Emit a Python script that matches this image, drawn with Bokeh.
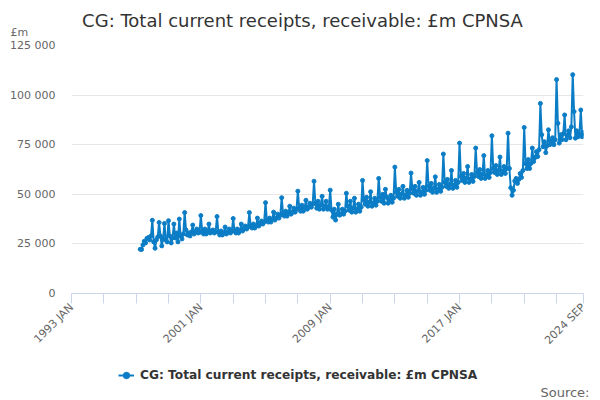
import math
import pandas as pd
from bokeh.plotting import figure
from bokeh.layouts import column
from bokeh.models import Range1d, FixedTicker, Label, Legend, LegendItem, ColumnDataSource
from bokeh.embed import file_html
from bokeh.resources import INLINE

# ---------------- data (values in £m, monthly) ----------------
title_text = "CG: Total current receipts, receivable: £m CPNSA"
series_name = "CG: Total current receipts, receivable: £m CPNSA"
unit_text = "£m"
source_text = "Source:"
axis_start = "1993-01"
first_month = "1997-04"

r1997 = [22300, 22200, 24500, 26300, 25500, 27800, 28200, 27000, 29000]
r1998 = [36900, 26000, 22800, 27000, 28500, 35800, 29000, 24000, 27500, 35300, 27000, 26000]
r1999 = [36700, 29000, 25500, 28000, 35000, 28000, 30500, 26000, 37500, 29000, 27500, 30000]
r2000 = [40800, 32000, 29500, 30500, 29000, 31000, 34500, 30000, 31000, 32500, 30500, 30800]
r2001 = [39300, 31500, 30000, 32500, 30000, 31000, 35000, 30500, 31500, 32000, 30500, 31000]
r2002 = [38800, 31000, 29500, 31500, 29500, 30500, 33500, 30000, 31000, 32500, 30500, 31500]
r2003 = [37800, 31500, 30500, 32500, 30500, 31500, 35000, 31500, 32500, 34000, 32500, 33500]
r2004 = [40800, 34000, 33000, 35000, 33000, 34000, 38000, 34000, 35000, 36500, 35000, 36000]
r2005 = [45800, 37000, 36000, 38000, 36000, 37500, 41000, 37000, 38000, 40000, 38000, 39500]
r2006 = [48300, 40500, 39000, 41500, 39000, 40500, 44000, 40000, 41000, 43000, 41000, 42500]
r2007 = [51600, 43000, 41500, 44500, 41500, 43000, 47000, 42500, 43500, 45500, 43500, 45000]
r2008 = [56600, 45500, 43000, 46500, 42500, 44500, 49000, 42500, 44000, 46500, 42500, 43500]
r2009 = [52100, 42000, 38500, 42500, 37000, 40000, 45000, 39500, 40000, 42500, 40000, 41500]
r2010 = [50500, 44000, 42000, 46500, 41000, 43000, 48000, 41000, 42500, 45000, 41500, 43500]
r2011 = [57000, 47000, 45000, 48500, 44000, 46000, 51300, 44000, 45500, 48000, 44500, 46500]
r2012 = [58000, 48500, 46500, 50000, 45500, 52500, 48500, 45500, 47000, 49500, 46000, 48000]
r2013 = [63700, 51000, 49000, 52500, 48000, 50000, 54000, 48000, 49500, 52000, 48500, 50500]
r2014 = [60700, 52500, 50500, 54000, 49500, 51500, 56000, 49500, 51000, 53500, 50000, 52000]
r2015 = [67000, 54000, 52000, 55500, 51000, 53000, 58800, 51000, 52500, 55000, 51500, 53500]
r2016 = [70300, 56000, 54000, 57500, 53000, 55000, 62000, 53000, 54500, 57000, 53500, 56000]
r2017 = [75800, 59000, 57000, 60500, 56000, 58000, 64000, 56000, 57500, 60000, 56500, 59000]
r2018 = [73300, 61000, 59000, 62500, 58000, 60000, 69500, 58000, 59500, 62000, 58500, 61000]
r2019 = [79500, 63000, 61000, 64500, 60000, 62000, 68800, 60000, 61500, 64000, 60500, 63000]
r2020 = [80800, 63000, 53300, 49500, 52000, 56700, 58000, 55500, 57500, 60500, 58500, 62000]
r2021 = [83700, 65500, 63000, 67500, 63000, 65500, 73300, 66500, 68500, 71500, 69000, 72500]
r2022 = [95800, 80000, 74000, 76500, 71000, 74500, 82500, 75000, 76700, 78500, 75000, 77500]
r2023 = [107800, 85800, 75800, 80000, 77500, 80500, 90000, 77500, 79500, 82000, 78500, 84000]
r2024 = [110300, 91700, 78300, 82000, 79000, 80500, 92500, 79000, 81000]

x_tick_months = ["1993-01", "1995-01", "1997-01", "1999-01", "2001-01", "2003-01",
                 "2005-01", "2007-01", "2009-01", "2011-01", "2013-01", "2015-01",
                 "2017-01", "2019-01", "2021-01", "2023-01", "2024-09"]
x_tick_labels = ["1993 JAN", "", "", "", "2001 JAN", "", "", "", "2009 JAN", "", "",
                 "", "2017 JAN", "", "", "", "2024 SEP"]
y_tick_values = [0, 25000, 50000, 75000, 100000, 125000]
y_tick_labels = ["0", "25 000", "50 000", "75 000", "100 000", "125 000"]

# ---------------- build ----------------
values = (r1997 + r1998 + r1999 + r2000 + r2001 + r2002 + r2003 + r2004 + r2005 +
          r2006 + r2007 + r2008 + r2009 + r2010 + r2011 + r2012 + r2013 + r2014 +
          r2015 + r2016 + r2017 + r2018 + r2019 + r2020 + r2021 + r2022 + r2023 + r2024)
origin = pd.Period(axis_start, freq="M")
months = pd.period_range(first_month, periods=len(values), freq="M")
xpos = [(m - origin).n for m in months]
labels = [m.strftime("%Y %b").upper() for m in months]
src = ColumnDataSource(dict(x=xpos, y=values, month=labels))

tick_pos = [(pd.Period(t, freq="M") - origin).n for t in x_tick_months]

FONT = "DejaVu Sans"
BLUE = "#0b7dc6"
W = 600


def blank_fig(h):
    f = figure(width=W, height=h, output_backend="svg", toolbar_location=None,
               x_range=Range1d(0, W), y_range=Range1d(0, h),
               x_axis_type=None, y_axis_type=None,
               min_border=0, min_border_left=0, min_border_right=0,
               min_border_top=0, min_border_bottom=0)
    f.frame_align = False
    f.outline_line_color = None
    f.xgrid.grid_line_color = None
    f.ygrid.grid_line_color = None
    f.background_fill_color = "white"
    f.border_fill_color = "white"
    return f


# ---- top strip: title and unit ----
TOP_H = 38
top = blank_fig(TOP_H)
top.add_layout(Label(x=302, y=TOP_H - 20, text=title_text, text_align="center",
                     text_baseline="middle", text_font=FONT, text_font_size="18px",
                     text_color="#333333"))
top.add_layout(Label(x=10, y=TOP_H - 32, text=unit_text, text_align="left",
                     text_baseline="middle", text_font=FONT, text_font_size="11px",
                     text_color="#666666"))

# ---- main chart ----
p = figure(width=W, height=316, output_backend="svg", toolbar_location=None,
           x_range=Range1d(0, tick_pos[-1]), y_range=Range1d(0, y_tick_values[-1]),
           min_border_left=71, min_border_right=17, min_border_top=7, min_border_bottom=60)
p.frame_align = False
p.outline_line_color = None
p.background_fill_color = "white"
p.border_fill_color = "white"

lr = p.line("x", "y", source=src, line_color=BLUE, line_width=2)
sr = p.scatter("x", "y", source=src, size=4, fill_color=BLUE, line_color=BLUE)

xa = p.xaxis[0]
xa.ticker = FixedTicker(ticks=tick_pos)
xa.major_label_overrides = {t: l for t, l in zip(tick_pos, x_tick_labels)}
xa.major_label_orientation = math.pi / 4
xa.axis_line_color = "#ccd6eb"
xa.major_tick_line_color = "#ccd6eb"
xa.major_tick_out = 10
xa.major_tick_in = 0
xa.minor_tick_line_color = None
xa.major_label_text_font = FONT
xa.major_label_text_font_size = "11px"
xa.major_label_text_color = "#666666"
xa.major_label_standoff = 2

ya = p.yaxis[0]
ya.ticker = FixedTicker(ticks=y_tick_values)
ya.major_label_overrides = {t: l for t, l in zip(y_tick_values, y_tick_labels)}
ya.axis_line_color = None
ya.major_tick_line_color = None
ya.minor_tick_line_color = None
ya.major_tick_out = 0
ya.major_tick_in = 0
ya.major_label_standoff = 16
ya.major_label_text_font = FONT
ya.major_label_text_font_size = "11px"
ya.major_label_text_color = "#666666"

p.xgrid.grid_line_color = None
p.ygrid.grid_line_color = "#e6e6e6"
p.ygrid.ticker = FixedTicker(ticks=y_tick_values)

# ---- bottom strip: legend and source ----
BOT_H = 46
bot = blank_fig(BOT_H)
# the series itself (far outside this strip's ranges, so only its legend key shows)
kl = bot.line("x", "y", source=src, line_color=BLUE, line_width=2)
ks = bot.scatter("x", "y", source=src, size=4, fill_color=BLUE, line_color=BLUE)
legend = Legend(items=[LegendItem(label=series_name, renderers=[kl, ks])],
                location=(118, 17), orientation="horizontal",
                border_line_color=None, background_fill_alpha=0,
                padding=0, margin=0, glyph_width=16, glyph_height=16,
                label_height=16,
                label_text_font=FONT, label_text_font_size="12.2px",
                label_text_font_style="bold", label_text_color="#333333",
                label_standoff=6)
bot.add_layout(legend)
bot.add_layout(Label(x=589, y=BOT_H - 38, text=source_text, text_align="right",
                     text_baseline="middle", text_font=FONT, text_font_size="13px",
                     text_color="#666666"))

layout = column(top, p, bot, spacing=0)
open("out.html", "w").write(file_html(layout, INLINE))
